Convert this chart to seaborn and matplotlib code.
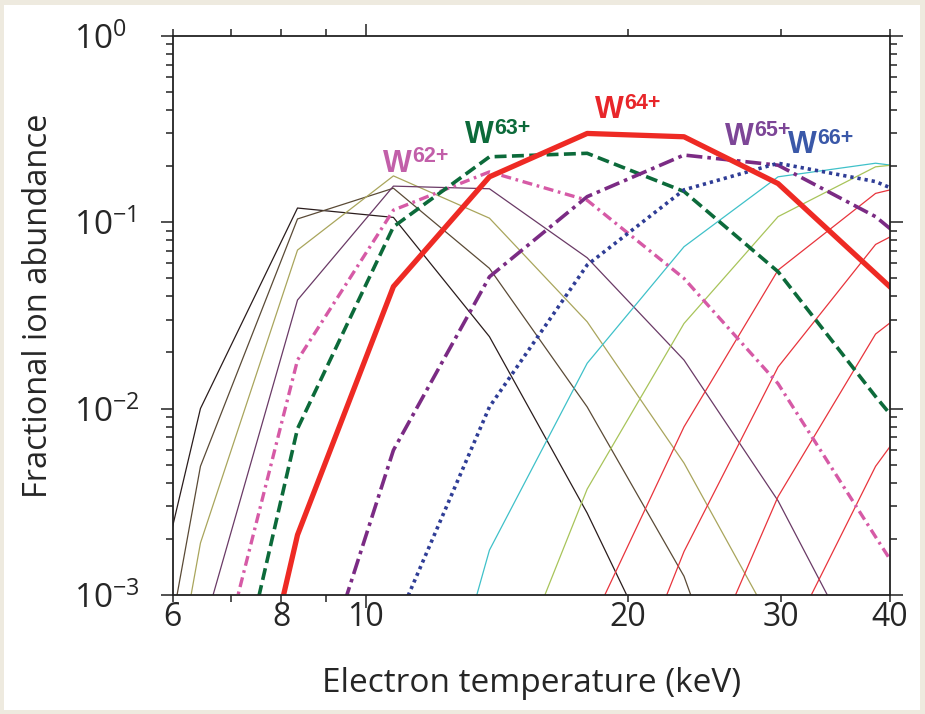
import numpy as np
import pandas as pd
import seaborn as sns
import matplotlib.pyplot as plt
from matplotlib.patches import Rectangle
from matplotlib.ticker import FixedLocator, FuncFormatter

nan = np.nan

# electron temperature grid (keV)
temperature = [5.0, 6.46, 8.35, 10.76, 13.87, 17.96, 23.2, 29.75, 38.5, 49.7]

# fractional abundances (values below 1e-3 only set the slope into the frame)
w58 = [6.3e-5, 1.0e-2, 0.119, 0.106, 0.0243, 2.75e-3, 2.3e-4, nan, nan, nan]
w59 = [6.8e-6, 4.9e-3, 0.104, 0.152, 0.0565, 0.0102, 1.26e-3, 5e-5, nan, nan]
w60 = [2.5e-6, 1.9e-3, 0.0708, 0.177, 0.105, 0.0292, 5.1e-3, 6.2e-4, 6.3e-5, nan]
w61 = [8.7e-6, 5.8e-4, 0.0382, 0.156, 0.151, 0.0644, 0.0182, 3.2e-3, 3.2e-4, nan]
w62 = [1.4e-6, 1.6e-4, 0.0182, 0.116, 0.186, 0.131, 0.0499, 0.0136, 2.05e-3, 3.2e-4]
w63 = [2.5e-7, 4.3e-5, 7.8e-3, 0.0944, 0.224, 0.234, 0.146, 0.0542, 0.0116, 2.75e-3]
w64 = [1e-7, 1.2e-5, 2.1e-3, 0.0451, 0.175, 0.299, 0.287, 0.161, 0.053, 0.0176]
w65 = [nan, 3.6e-6, 1.5e-4, 5.98e-3, 0.0509, 0.137, 0.229, 0.202, 0.107, 0.04]
w66 = [nan, nan, 4.2e-5, 6.5e-4, 0.0102, 0.0589, 0.149, 0.207, 0.165, 0.1]
w67 = [nan, nan, nan, 2.6e-5, 1.74e-3, 0.0175, 0.0738, 0.175, 0.207, 0.178]
w68 = [nan, nan, nan, nan, 1.8e-4, 3.7e-3, 0.0286, 0.107, 0.198, 0.224]
w69 = [nan, nan, nan, nan, nan, 6.3e-4, 7.98e-3, 0.0553, 0.1426, 0.19]
w70 = [nan, nan, nan, nan, nan, 8.5e-5, 1.71e-3, 0.0167, 0.0759, 0.141]
w71 = [nan, nan, nan, nan, nan, nan, 2.3e-4, 3.37e-3, 0.0251, 0.063]
w72 = [nan, nan, nan, nan, nan, nan, nan, 4.4e-4, 4.9e-3, 0.025]

x_labels = [6, 8, 10, 20, 30, 40]

# labelled charge states: superscript, anchor (keV, abundance), colour
ion_charges = ['62+', '63+', '64+', '65+', '66+']
label_T = [10.47, 13.0, 18.33, 25.85, 30.56]
label_f = [0.186, 0.265, 0.360, 0.259, 0.234]
label_colors = ['#c25fa9', '#0c6a3a', '#e8262a', '#7d4697', '#3a58a8']

thin_red = '#e8343c'
styles = {
    'W58+': dict(color='#2a1c1c', linewidth=0.9),
    'W59+': dict(color='#5a4a36', linewidth=0.9),
    'W60+': dict(color='#a9a55c', linewidth=0.9),
    'W61+': dict(color='#6a3a66', linewidth=0.9),
    'W67+': dict(color='#3fc1c9', linewidth=0.9),
    'W68+': dict(color='#a8c45a', linewidth=0.9),
    'W69+': dict(color=thin_red, linewidth=0.9),
    'W70+': dict(color=thin_red, linewidth=0.9),
    'W71+': dict(color=thin_red, linewidth=0.9),
    'W72+': dict(color=thin_red, linewidth=0.9),
    'W62+': dict(color='#d65aa6', linewidth=2.4, linestyle=(0, (3.0, 1.4, 0.8, 1.4))),
    'W63+': dict(color='#0c6a3a', linewidth=2.6, linestyle=(0, (3.3, 1.5))),
    'W65+': dict(color='#7b2b84', linewidth=2.6, linestyle=(0, (4.4, 1.4, 1.0, 1.4))),
    'W66+': dict(color='#2f3d96', linewidth=2.6, linestyle=(0, (0.9, 1.1))),
    'W64+': dict(color='#ee2a24', linewidth=3.8),
}
abundance = {
    'W58+': w58, 'W59+': w59, 'W60+': w60, 'W61+': w61,
    'W67+': w67, 'W68+': w68, 'W69+': w69, 'W70+': w70, 'W71+': w71, 'W72+': w72,
    'W62+': w62, 'W63+': w63, 'W65+': w65, 'W66+': w66, 'W64+': w64,
}

sns.set_style('ticks')
plt.rcParams['font.family'] = ['Open Sans', 'DejaVu Sans']
plt.rcParams['mathtext.default'] = 'regular'

fig = plt.figure(figsize=(9.25, 7.14), dpi=100, facecolor='#eeeadf')
fig.patches.append(Rectangle((4 / 925, 4 / 714), 916 / 925, 705 / 714,
                             transform=fig.transFigure, facecolor='white',
                             edgecolor='none', zorder=-1))
ax = fig.add_axes([0.1865, 0.1667, 0.7757, 0.7833])
ax.set_xscale('log')
ax.set_yscale('log')

for ion, values in abundance.items():
    d = pd.DataFrame({'T': temperature, 'f': values}).dropna()
    sns.lineplot(data=d, x='T', y='f', ax=ax, estimator=None, sort=False,
                 **styles[ion])

for q, t, f, c in zip(ion_charges, label_T, label_f, label_colors):
    w = ax.text(t, f, 'W', color=c, fontsize=22, fontweight='bold',
                family='Liberation Sans', ha='left', va='baseline')
    ax.annotate(q, xy=(1.0, 0.55), xycoords=w, xytext=(0.5, 0),
                textcoords='offset points', color=c, fontsize=15.5,
                fontweight='bold', family='Liberation Sans',
                ha='left', va='baseline')

ax.set_xlim(6, 40)
ax.set_ylim(1e-3, 1)

ax.xaxis.set_major_locator(FixedLocator([10]))
ax.xaxis.set_minor_locator(FixedLocator([6, 7, 8, 9, 20, 30, 40]))
fmt = FuncFormatter(lambda v, p: f'{v:g}' if round(v) in x_labels else '')
ax.xaxis.set_major_formatter(fmt)
ax.xaxis.set_minor_formatter(fmt)

ax.tick_params(which='both', direction='out', top=True, right=True,
               width=1.1, labelsize=23, pad=3, color='#222222')
ax.tick_params(which='major', length=9)
ax.tick_params(which='minor', length=5)
ax.tick_params(axis='x', which='minor', pad=-1)
ax.tick_params(axis='x', which='major', pad=-5)
# y labels start at a common left edge, as in the source figure
ax.tick_params(axis='y', which='major', labelsize=24, pad=62)
for lab in ax.get_yticklabels():
    lab.set_horizontalalignment('left')
for sp in ax.spines.values():
    sp.set_linewidth(1.3)
    sp.set_color('#222222')

ax.set_xlabel('Electron temperature (keV)', fontsize=24)
ax.set_ylabel('Fractional ion abundance', fontsize=23.5)
ax.xaxis.set_label_coords(0.5, -0.128)
ax.yaxis.set_label_coords(-0.164, 0.518)

fig.savefig('out.png', dpi=100, facecolor=fig.get_facecolor())
